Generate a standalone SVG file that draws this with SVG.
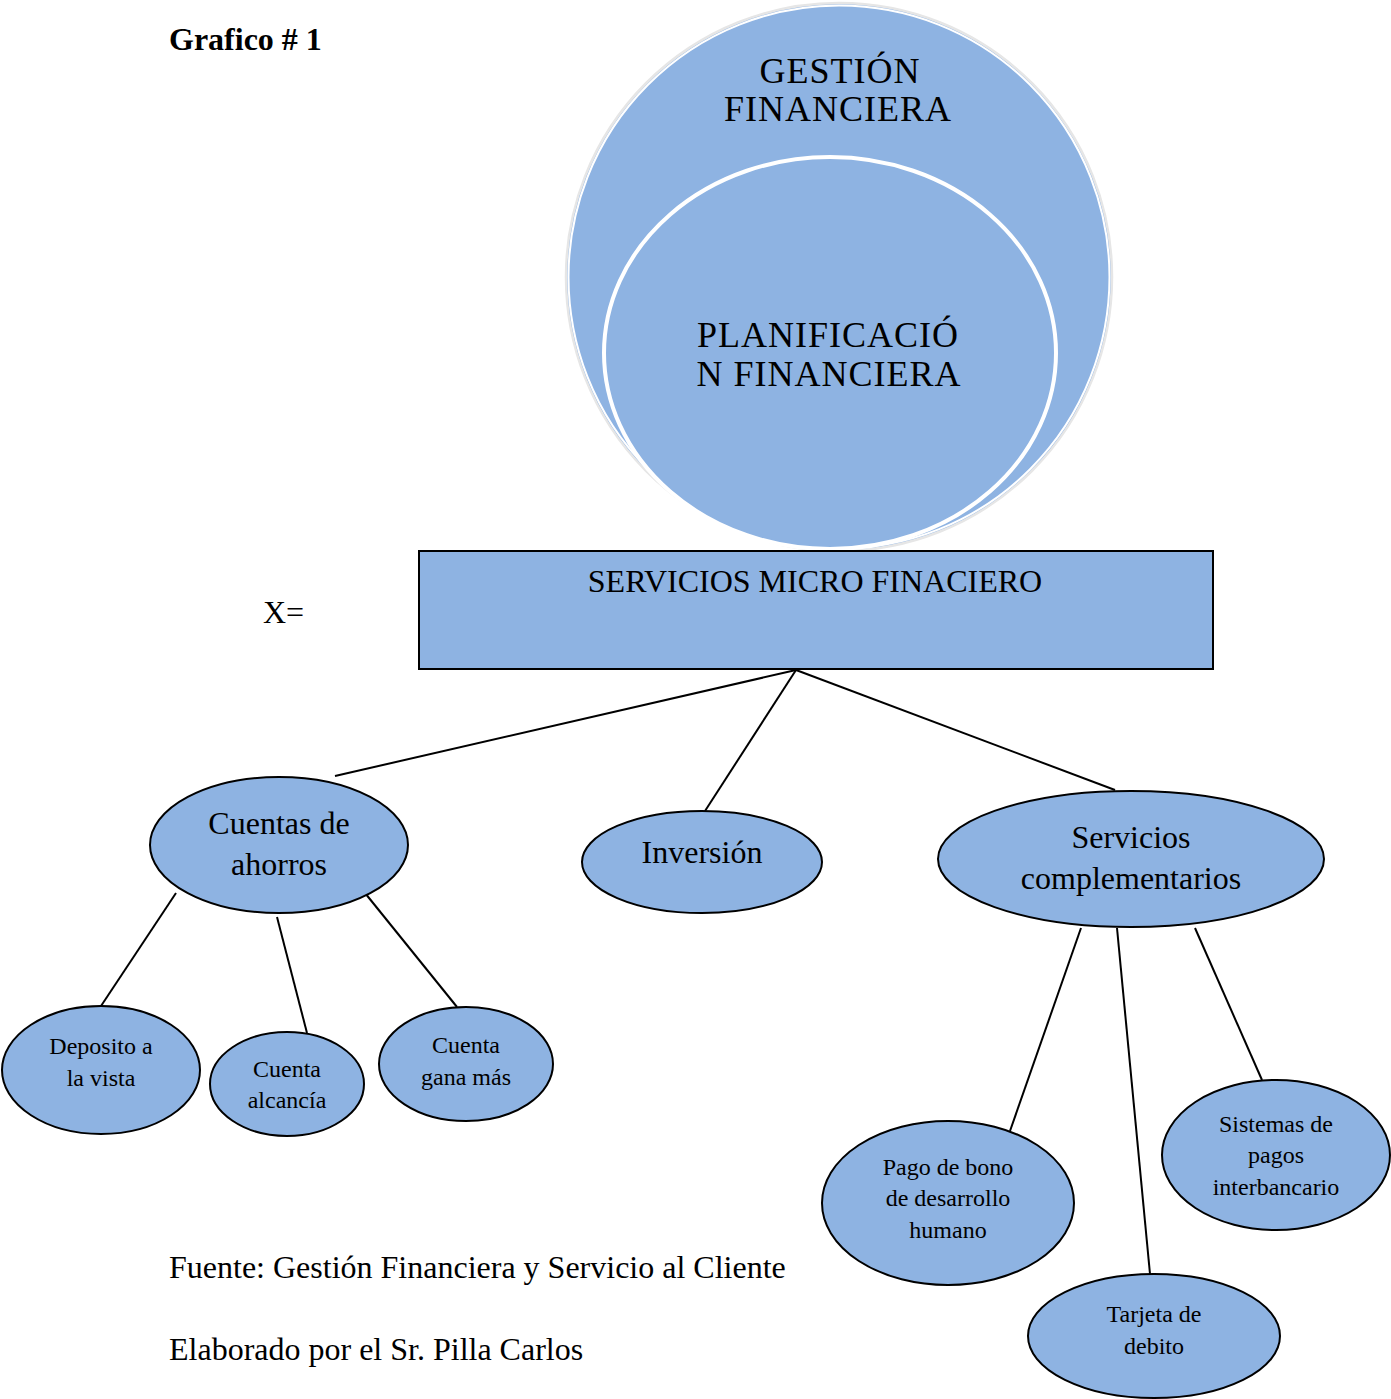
<svg xmlns="http://www.w3.org/2000/svg" width="1391" height="1399" viewBox="0 0 1391 1399">
  <style>
    .t { font-family: "Liberation Serif", "Times New Roman", serif; fill: #000; }
    .node { fill: #8EB3E2; stroke: #000; stroke-width: 2; }
    .link { stroke: #000; stroke-width: 2; fill: none; }
    .mid { text-anchor: middle; }
    .big { font-size: 32px; }
    .small { font-size: 24px; }
  </style>
  <rect x="0" y="0" width="1391" height="1399" fill="#fff"/>

  <text class="t big" x="169" y="50" font-weight="bold">Grafico # 1</text>

  <!-- nested circles -->
  <g id="gestion">
    <ellipse cx="839" cy="277" rx="273" ry="274" fill="#8EB3E2" stroke="#e6e6e6" stroke-width="2.5"/>
    <ellipse cx="839" cy="277" rx="270.5" ry="271.5" fill="none" stroke="#fff" stroke-width="2"/>
    <text class="t mid" x="840" y="83" font-size="36" letter-spacing="1">GESTIÓN</text>
    <text class="t mid" x="838" y="121" font-size="36" letter-spacing="1">FINANCIERA</text>
  </g>
  <g id="planificacion">
    <ellipse cx="830" cy="353" rx="226" ry="196" fill="#8EB3E2" stroke="#fff" stroke-width="4"/>
    <text class="t mid" x="828" y="347" font-size="36" letter-spacing="1">PLANIFICACIÓ</text>
    <text class="t mid" x="829" y="386" font-size="36" letter-spacing="1">N FINANCIERA</text>
  </g>

  <text class="t big" x="263" y="623">X=</text>

  <g id="connectors">
    <line class="link" x1="796" y1="670" x2="335" y2="776"/>
    <line class="link" x1="796" y1="670" x2="705" y2="811"/>
    <line class="link" x1="796" y1="670" x2="1115" y2="790"/>
    <line class="link" x1="176" y1="893" x2="101" y2="1006"/>
    <line class="link" x1="277" y1="917" x2="307" y2="1033"/>
    <line class="link" x1="365" y1="893" x2="457" y2="1007"/>
    <line class="link" x1="1081" y1="928" x2="1010" y2="1131"/>
    <line class="link" x1="1117" y1="928" x2="1150" y2="1274"/>
    <line class="link" x1="1195" y1="928" x2="1262" y2="1080"/>
  </g>

  <g id="servicios-micro">
    <rect class="node" x="419" y="551" width="794" height="118"/>
    <text class="t mid big" x="815" y="592">SERVICIOS MICRO FINACIERO</text>
  </g>

  <g id="cuentas-ahorros">
    <ellipse class="node" cx="279" cy="845" rx="129" ry="68"/>
    <text class="t mid big" x="279" y="834">Cuentas de</text>
    <text class="t mid big" x="279" y="875">ahorros</text>
  </g>

  <g id="inversion">
    <ellipse class="node" cx="702" cy="862" rx="120" ry="51"/>
    <text class="t mid big" x="702" y="863">Inversión</text>
  </g>

  <g id="servicios-complementarios">
    <ellipse class="node" cx="1131" cy="859" rx="193" ry="68"/>
    <text class="t mid big" x="1131" y="848">Servicios</text>
    <text class="t mid big" x="1131" y="889">complementarios</text>
  </g>

  <g id="deposito">
    <ellipse class="node" cx="101" cy="1070" rx="99" ry="64"/>
    <text class="t mid small" x="101" y="1054">Deposito a</text>
    <text class="t mid small" x="101" y="1086">la vista</text>
  </g>

  <g id="alcancia">
    <ellipse class="node" cx="287" cy="1084" rx="77" ry="52"/>
    <text class="t mid small" x="287" y="1077">Cuenta</text>
    <text class="t mid small" x="287" y="1108">alcancía</text>
  </g>

  <g id="gana-mas">
    <ellipse class="node" cx="466" cy="1064" rx="87" ry="57"/>
    <text class="t mid small" x="466" y="1053">Cuenta</text>
    <text class="t mid small" x="466" y="1085">gana más</text>
  </g>

  <g id="bono">
    <ellipse class="node" cx="948" cy="1203" rx="126" ry="82"/>
    <text class="t mid small" x="948" y="1175">Pago de bono</text>
    <text class="t mid small" x="948" y="1206">de desarrollo</text>
    <text class="t mid small" x="948" y="1238">humano</text>
  </g>

  <g id="tarjeta">
    <ellipse class="node" cx="1154" cy="1336" rx="126" ry="62"/>
    <text class="t mid small" x="1154" y="1322">Tarjeta de</text>
    <text class="t mid small" x="1154" y="1354">debito</text>
  </g>

  <g id="sistemas">
    <ellipse class="node" cx="1276" cy="1155" rx="114" ry="75"/>
    <text class="t mid small" x="1276" y="1132">Sistemas de</text>
    <text class="t mid small" x="1276" y="1163">pagos</text>
    <text class="t mid small" x="1276" y="1195">interbancario</text>
  </g>

  <text class="t big" x="169" y="1278">Fuente: Gestión Financiera y Servicio al Cliente</text>
  <text class="t big" x="169" y="1360">Elaborado por el Sr. Pilla Carlos</text>
</svg>
